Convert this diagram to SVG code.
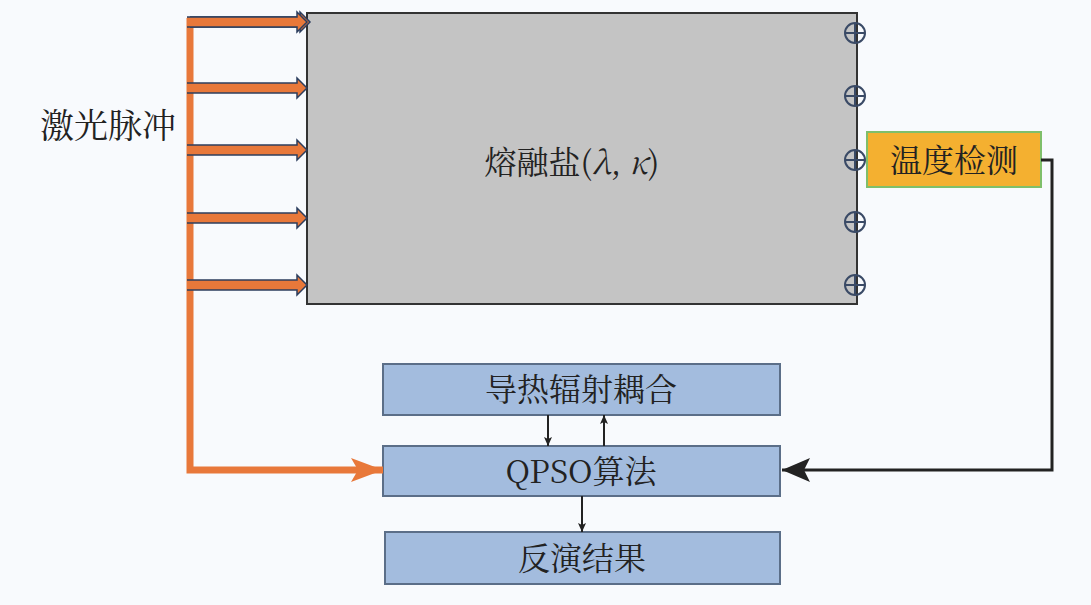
<svg xmlns="http://www.w3.org/2000/svg" width="1091" height="605" viewBox="0 0 1091 605">
<style>
.t{font-family:"Noto Serif CJK SC","Liberation Serif","Noto Sans CJK SC",serif;fill:#222;text-anchor:middle}
.b{fill:#a3bcde;stroke:#5b6e88;stroke-width:2}
.c{fill:none;stroke:#3a4a66;stroke-width:2}
.or{stroke:#e8783a;fill:none}
</style>
<defs>
<marker id="ah" markerWidth="10" markerHeight="10" refX="9" refY="5" orient="auto" markerUnits="userSpaceOnUse"><path d="M0,1 L9,5 L0,9 L2,5z" fill="#222"/></marker>
<marker id="bh" markerWidth="30" markerHeight="30" refX="28" refY="15" orient="auto" markerUnits="userSpaceOnUse"><path d="M0,3 L28,15 L0,27 L6,15z" fill="#222"/></marker>
<marker id="oh" markerWidth="34" markerHeight="30" refX="32" refY="15" orient="auto" markerUnits="userSpaceOnUse"><path d="M0,3 L32,15 L0,27 L7,15z" fill="#e8783a"/></marker>
<g id="ph"><path d="M0,-5 H110 V-10 L120,0 L110,10 V5 H0" fill="#e8783a" stroke="#2c3e5e" stroke-width="1.5"/></g>
</defs>
<rect width="1091" height="605" fill="#f8fafd"/>
<g id="salt"><rect x="307" y="13" width="550" height="291" fill="#c4c4c4" stroke="#333" stroke-width="2"/>
<text class="t" x="572" y="174" font-size="32">熔融盐(<tspan font-style="italic">λ</tspan>, <tspan font-style="italic">κ</tspan>)</text></g>
<g id="sensors">
<g class="c"><circle cx="855" cy="33" r="10"/><path d="M845,33H865M855,23V43"/>
<circle cx="855" cy="96" r="10"/><path d="M845,96H865M855,86V106"/>
<circle cx="855" cy="160" r="10"/><path d="M845,160H865M855,150V170"/>
<circle cx="855" cy="222" r="10"/><path d="M845,222H865M855,212V232"/>
<circle cx="855" cy="285" r="10"/><path d="M845,285H865M855,275V295"/></g></g>
<g id="temp"><rect x="867" y="132" width="174" height="55" fill="#f4b030" stroke="#7fbf6a" stroke-width="2"/><text class="t" x="954" y="172" font-size="32">温度检测</text></g>
<g id="laser"><text class="t" x="108" y="138" font-size="34">激光脉冲</text></g>
<g id="n1"><rect class="b" x="383" y="364" width="397" height="51"/><text class="t" x="581" y="401" font-size="32">导热辐射耦合</text></g>
<g id="n2"><rect class="b" x="383" y="446" width="397" height="50"/><text class="t" x="581" y="483" font-size="32">QPSO算法</text></g>
<g id="n3"><rect class="b" x="385" y="532" width="395" height="52"/><text class="t" x="582" y="570" font-size="32">反演结果</text></g>
<g id="connectors">
<path class="or" stroke-width="7" d="M190,18 V470 H383" marker-end="url(#oh)"/>
<use href="#ph" x="190" y="22" transform="translate(0,0) scale(1)" /><use href="#ph" x="190" y="22" transform="translate(-3,0)"/>
<use href="#ph" x="187" y="88"/><use href="#ph" x="187" y="150"/><use href="#ph" x="187" y="218"/><use href="#ph" x="187" y="285"/>
<path d="M1041,160 H1052 V470 H782" fill="none" stroke="#222" stroke-width="3" marker-end="url(#bh)"/>
<path d="M548,415 V446" stroke="#222" stroke-width="2" marker-end="url(#ah)"/>
<path d="M604,446 V415" stroke="#222" stroke-width="2" marker-end="url(#ah)"/>
<path d="M582,496 V532" stroke="#222" stroke-width="2" marker-end="url(#ah)"/>
</g>
</svg>
